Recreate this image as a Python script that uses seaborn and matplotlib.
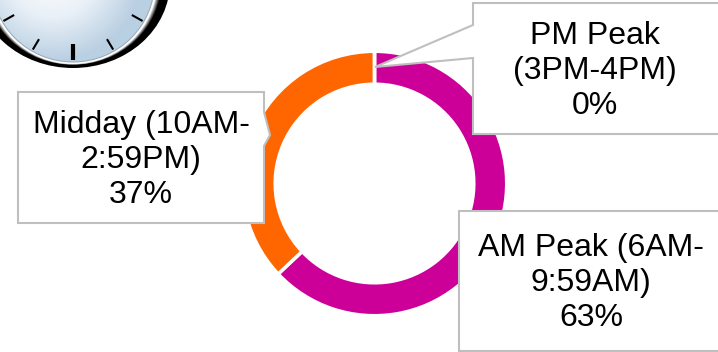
import numpy as np
import seaborn as sns
import matplotlib.pyplot as plt
from matplotlib.colors import LinearSegmentedColormap
from matplotlib.patches import Ellipse, Polygon

periods = ["AM Peak (6AM-\n9:59AM)", "Midday (10AM-\n2:59PM)", "PM Peak\n(3PM-4PM)"]
shares = [63, 37, 0]
colors = ["#CC0099", "#FF6600", "#FFFFFF"]

sns.set_theme(style="white")
plt.rcParams["font.family"] = ["Liberation Sans", "DejaVu Sans"]

W, H = 718, 352
fig = plt.figure(figsize=(W / 100, H / 100), dpi=100)
ax = fig.add_axes([0, 0, 1, 1])


def py(y):
    # picture pixels count from the top
    return H - y


# donut
ax.pie(shares, colors=sns.color_palette(colors), startangle=90, counterclock=False,
       center=(374.5, py(183.5)), radius=132.2, frame=True,
       wedgeprops=dict(width=32.9, edgecolor="white", linewidth=2.5))

# clock in the corner
cx, cy = 73, py(-18)
ax.add_patch(Ellipse((cx, cy), 194, 172, fc="black", ec="none", zorder=3))
for t in np.linspace(0, 1, 6):
    ax.add_patch(Ellipse((cx, cy), 178 - 10 * t, 166 - 2 * t, fc=str(t), ec="none", zorder=3))
ax.add_patch(Ellipse((cx, cy), 164, 161, fc="#9AA8B5", ec="none", zorder=3))
face = Ellipse((cx, cy), 162, 159, fc="none", ec="none", zorder=4)
ax.add_patch(face)
gx, gy = np.meshgrid(np.linspace(-90, 90, 180), np.linspace(-90, 90, 180))
grad = np.hypot(gx + 20, gy - 10) / 90
cmap = LinearSegmentedColormap.from_list("face", ["#FFFFFF", "#E9F0F7", "#B9CFE2"])
im = ax.imshow(grad, extent=(cx - 90, cx + 90, cy - 90, cy + 90), cmap=cmap, vmin=0, vmax=1,
               origin="lower", zorder=4, aspect="auto")
im.set_clip_path(face)
for hour in range(12):
    a = np.radians(hour * 30)
    inner = 62 if hour == 0 else 66
    ax.plot([cx + 1.03 * inner * np.sin(a), cx + 1.03 * 78 * np.sin(a)],
            [cy - inner * np.cos(a), cy - 78 * np.cos(a)],
            color="black", lw=3 if hour == 0 else 1.5, solid_capstyle="butt", zorder=5)

# callouts
pm = [(473, 3), (720, 3), (720, 134), (473, 134), (473, 58), (375, 67), (473, 25)]
mid = [(18, 92), (264, 92), (264, 112), (270, 135), (264, 146), (264, 223), (18, 223)]
am = [(459, 211), (724, 211), (724, 351), (459, 351)]
for pts in [mid, am, pm]:
    ax.add_patch(Polygon([(x, py(y)) for x, y in pts], closed=True, fc="white",
                         ec="#BFBFBF", lw=1.5, zorder=6, joinstyle="miter"))

label_x = [591, 141, 595]
label_y = [283, 160, 71]
for name, share, x, y in zip(periods, shares, label_x, label_y):
    ax.text(x, py(y), f"{name}\n{share}%", ha="center", va="center", fontsize=23,
            color="black", linespacing=1.2, zorder=7)

ax.set_xlim(0, W)
ax.set_ylim(0, H)
ax.set_aspect("auto")
ax.axis("off")

fig.savefig("out.png", dpi=100)
